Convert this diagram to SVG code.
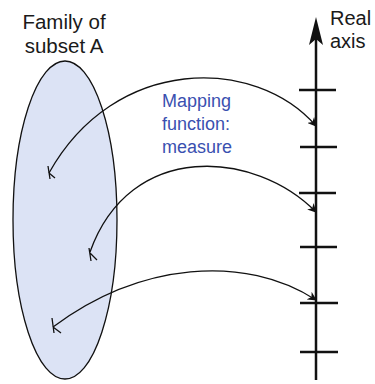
<svg xmlns="http://www.w3.org/2000/svg" width="375" height="384" viewBox="0 0 375 384">
<defs>
<style>
.lbl{font-family:"Liberation Sans",Arial,sans-serif;font-size:20px;fill:#1a1a1a}
.big{font-size:20.5px}
.blue{font-family:"Liberation Sans",Arial,sans-serif;font-size:18px;fill:#3a50b0}
.curve{fill:none;stroke:#111;stroke-width:1.3;marker-end:url(#ah)}
.tick{stroke:#111;stroke-width:2.4}
.mark{stroke:#111;stroke-width:1.3;fill:none}
</style>
<marker id="ah" viewBox="0 0 10 10" refX="9" refY="5" markerWidth="9" markerHeight="9" markerUnits="userSpaceOnUse" orient="auto">
<path d="M0,0 L10,5 L0,10 L3,5 Z" fill="#111"/>
</marker>
</defs>
<rect width="375" height="384" fill="#fff"/>
<g id="subset">
<ellipse cx="65" cy="220" rx="52" ry="159" fill="#dce3f5" stroke="#111" stroke-width="1.3"/>
<text class="lbl big" x="64" y="29" text-anchor="middle">Family of</text>
<text class="lbl big" x="64" y="53" text-anchor="middle">subset A</text>
</g>
<g id="axis">
<line x1="316" y1="38" x2="316" y2="380" stroke="#111" stroke-width="2.5"/>
<path d="M316,17 L323,45 L316,39 L309,45 Z" fill="#111"/>
<line class="tick" x1="299" y1="90" x2="336" y2="90"/>
<line class="tick" x1="300" y1="147" x2="337" y2="147"/>
<line class="tick" x1="299" y1="193" x2="336" y2="193"/>
<line class="tick" x1="300" y1="247" x2="337" y2="247"/>
<line class="tick" x1="300" y1="303" x2="338" y2="303"/>
<line class="tick" x1="300" y1="352" x2="338" y2="352"/>
<text class="lbl" x="330" y="25">Real</text>
<text class="lbl" x="330" y="48">axis</text>
</g>
<g id="points">
<path class="mark" d="M48,166 L50,179 M49,173 L55,178"/>
<path class="mark" d="M89,248 L91,261 M90,253 L97,260"/>
<path class="mark" d="M52,318 L54,333 M53,327 L61,333"/>
</g>
<g id="label">
<text class="blue" x="162" y="107">Mapping</text>
<text class="blue" x="162" y="130">function:</text>
<text class="blue" x="162" y="153">measure</text>
</g>
<g id="connectors">
<path class="curve" d="M49,173 C115,55 255,56 316,126"/>
<path class="curve" d="M90,252 C130,140 255,150 316,212"/>
<path class="curve" d="M53,327 C140,262 245,254 316,300"/>
</g>
</svg>
